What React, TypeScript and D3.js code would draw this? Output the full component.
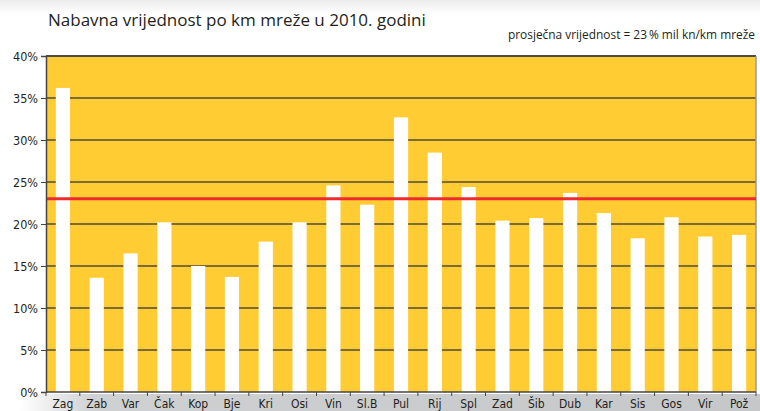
import { useEffect, useRef } from 'react';
import * as d3 from 'd3';

const categories = ['Zag', 'Zab', 'Var', 'Čak', 'Kop', 'Bje', 'Kri', 'Osi', 'Vin', 'Sl.B', 'Pul', 'Rij', 'Spl', 'Zad', 'Šib', 'Dub', 'Kar', 'Sis', 'Gos', 'Vir', 'Pož'];
const values = [36.2, 13.6, 16.5, 20.2, 15.0, 13.7, 17.9, 20.2, 24.6, 22.3, 32.7, 28.5, 24.4, 20.4, 20.7, 23.7, 21.3, 18.3, 20.8, 18.5, 18.7];
const yTicks = [0, 5, 10, 15, 20, 25, 30, 35, 40];
const average = 23;

const title = 'Nabavna vrijednost po km mreže u 2010. godini';
const subtitle = 'prosječna vrijednost = 23\u2009% mil kn/km mreže';

const W = 760;
const H = 411;
const narrow = "'Liberation Sans Narrow', 'DejaVu Sans Condensed', sans-serif";

const App = () => {
  const svgRef = useRef<SVGSVGElement>(null);

  useEffect(() => {
    const svg = d3.select(svgRef.current);
    svg.selectAll('*').remove();

    const margin = { top: 56, right: 4, bottom: 19, left: 46 };
    const innerW = W - margin.left - margin.right;
    const innerH = H - margin.top - margin.bottom;

    const x = d3.scaleBand().domain(categories).range([0, innerW]).paddingInner(0.58).paddingOuter(0.29);
    const y = d3.scaleLinear().domain([0, 40]).range([innerH, 0]);

    // soft grey shadow under the plot and along the top
    const defs = svg.append('defs');
    const grad = defs.append('linearGradient').attr('id', 'shade').attr('x1', '0%').attr('x2', '100%');
    grad.append('stop').attr('offset', '0%').attr('stop-color', '#ffffff');
    grad.append('stop').attr('offset', '10%').attr('stop-color', '#cfd0d2');
    grad.append('stop').attr('offset', '100%').attr('stop-color', '#c6c7c9');
    const topGrad = defs.append('linearGradient').attr('id', 'topshade').attr('x1', '0%').attr('x2', '0%').attr('y1', '0%').attr('y2', '100%');
    topGrad.append('stop').attr('offset', '0%').attr('stop-color', '#ececec');
    topGrad.append('stop').attr('offset', '100%').attr('stop-color', '#ffffff');
    svg.append('rect')
      .attr('x', 0).attr('y', 0)
      .attr('width', W).attr('height', 14)
      .attr('fill', 'url(#topshade)');
    svg.append('rect')
      .attr('x', 20).attr('y', margin.top + innerH + 2)
      .attr('width', W - 20).attr('height', 20)
      .attr('fill', 'url(#shade)');

    svg.append('text')
      .attr('x', 48).attr('y', 26)
      .attr('font-family', "'Open Sans', sans-serif")
      .attr('font-size', 17)
      .attr('fill', '#231f20')
      .text(title);

    svg.append('text')
      .attr('x', 755).attr('y', 39)
      .attr('text-anchor', 'end')
      .attr('font-family', "'Open Sans', sans-serif")
      .attr('font-size', 11.9)
      .attr('fill', '#231f20')
      .text(subtitle);

    const g = svg.append('g').attr('transform', `translate(${margin.left},${margin.top})`);

    g.append('rect')
      .attr('width', innerW).attr('height', innerH)
      .attr('fill', '#ffcc33');

    // grid lines
    g.selectAll('.grid')
      .data(yTicks.filter(t => t > 0))
      .enter()
      .append('line')
      .attr('x1', 0).attr('x2', innerW)
      .attr('y1', d => y(d)).attr('y2', d => y(d))
      .attr('stroke', d => (d === 40 ? '#4a4a4a' : '#7d6a35'))
      .attr('stroke-width', 2);

    // right border
    g.append('line')
      .attr('x1', innerW).attr('x2', innerW)
      .attr('y1', 0).attr('y2', innerH)
      .attr('stroke', '#9a9a9a').attr('stroke-width', 1.5);

    g.selectAll('.bar')
      .data(values)
      .enter()
      .append('rect')
      .attr('x', (d, i) => x(categories[i]) as number)
      .attr('y', d => y(d))
      .attr('width', x.bandwidth())
      .attr('height', d => innerH - y(d))
      .attr('fill', '#ffffff');

    g.append('line')
      .attr('x1', 0).attr('x2', innerW)
      .attr('y1', y(average)).attr('y2', y(average))
      .attr('stroke', '#ee2a2e')
      .attr('stroke-width', 3);

    // y axis
    const yAxis = d3.axisLeft(y).tickValues(yTicks).tickFormat(d => `${d}%`).tickSize(5).tickPadding(3);
    const ya = g.append('g').call(yAxis);
    ya.select('.domain').attr('stroke', '#444').attr('stroke-width', 1.5);
    ya.selectAll('.tick line').attr('stroke', '#444');
    ya.selectAll('.tick text')
      .attr('font-family', narrow)
      .attr('font-size', 12.5)
      .attr('fill', '#231f20');

    // x axis
    const xTickPos = d3.range(categories.length + 1).map(i => (innerW / categories.length) * i);
    const xa = g.append('g').attr('transform', `translate(0,${innerH})`);
    xa.append('line').attr('x1', 0).attr('x2', innerW).attr('stroke', '#444').attr('stroke-width', 1.5);
    xa.selectAll('.xt')
      .data(xTickPos)
      .enter()
      .append('line')
      .attr('x1', d => d).attr('x2', d => d)
      .attr('y1', 0).attr('y2', 4)
      .attr('stroke', '#444');
    xa.selectAll('.xl')
      .data(categories)
      .enter()
      .append('text')
      .attr('x', d => (x(d) as number) + x.bandwidth() / 2)
      .attr('y', 16)
      .attr('text-anchor', 'middle')
      .attr('font-family', narrow)
      .attr('font-size', 12)
      .attr('fill', '#231f20')
      .text(d => d);
  }, []);

  return (
    <svg
      ref={svgRef}
      width={W}
      height={H}
      style={{ position: 'absolute', left: 0, top: 0, background: '#ffffff' }}
    />
  );
};

export default App;
